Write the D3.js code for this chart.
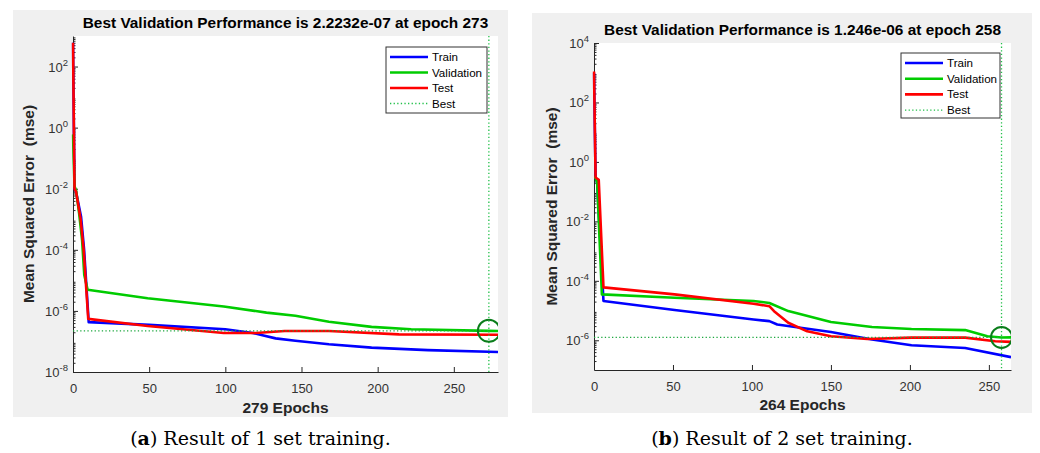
<!DOCTYPE html>
<html>
<head>
<meta charset="utf-8">
<script src="https://cdn.jsdelivr.net/npm/d3@7"></script>
<style>
    body { margin: 0; background: #fff; }
    svg text { font-family: "Liberation Sans", Arial, sans-serif; }
</style>
</head>
<body>
<svg id="chart" width="1040" height="453"></svg>
<script>

// Panel (a): [epoch, mse]
var trainA = [[0, 600], [1, 1e-2], [2, 8e-3], [5.3, 1.2e-3], [7.3, 1e-4], [10.3, 4.3e-7],
    [50, 3.5e-7], [100, 2.5e-7], [118, 1.9e-7], [133, 1.26e-7], [146, 1.05e-7], [168, 8.1e-8],
    [196, 6.3e-8], [233, 5.2e-8], [279, 4.5e-8]];
var validA = [[0, 0.6], [1, 1.2e-2], [2, 9e-3], [4, 1.6e-3], [6, 2e-4], [7.4, 1.5e-5], [9.6, 4.9e-6],
    [49, 2.6e-6], [99, 1.4e-6], [127, 8.8e-7], [146, 6.9e-7], [168, 4.4e-7], [196, 3e-7],
    [222, 2.5e-7], [273, 2.2232e-7], [279, 2.2e-7]];
var testA = [[0, 600], [1, 1e-2], [2, 8e-3], [5, 1e-3], [7, 1e-4], [10, 5.5e-7], [49, 3.2e-7],
    [99, 1.9e-7], [120, 1.9e-7], [139, 2.2e-7], [168, 2.2e-7], [214, 1.7e-7], [279, 1.65e-7]];

// Panel (b)
var trainB = [[0, 1e3], [1, 0.3], [2, 0.2], [6, 2.1e-5], [51, 1.05e-5], [101, 5e-6], [111, 4.4e-6],
    [116, 3.4e-6], [150, 1.9e-6], [176, 1.06e-6], [201, 6.8e-7], [235, 5.5e-7], [264, 2.7e-7]];
var validB = [[0, 0.3], [1, 0.3], [2, 0.2], [5, 3.5e-5], [51, 2.7e-5], [101, 2.1e-5], [111, 1.8e-5],
    [123, 9.6e-6], [150, 4.1e-6], [176, 2.8e-6], [201, 2.4e-6], [235, 2.2e-6], [249, 1.37e-6],
    [258, 1.246e-6], [264, 1.25e-6]];
var testB = [[0, 1.1e3], [1, 0.3], [3, 0.25], [6, 6e-5], [51, 3.5e-5], [101, 1.7e-5], [111, 1.4e-5],
    [114, 9.5e-6], [123, 3.9e-6], [135, 2e-6], [150, 1.37e-6], [173, 1.1e-6], [201, 1.23e-6],
    [235, 1.23e-6], [254, 9.3e-7], [264, 8.8e-7]];

var xTicks = [0, 50, 100, 150, 200, 250];
var yExpA = [-8, -6, -4, -2, 0, 2];
var yExpB = [-6, -4, -2, 0, 2, 4];
var legendNames = ["Train", "Validation", "Test", "Best"];
var lineColors = ["#0000ff", "#00cc00", "#ff0000"];
var bestColor = "#22c04a";

var svg = d3.select("#chart");

// draw one MATLAB-style performance plot
function drawPanel(cfg) {
    var p = cfg.plot;

    // grey figure background
    svg.append("rect")
        .attr("x", cfg.bg[0]).attr("y", cfg.bg[1])
        .attr("width", cfg.bg[2]).attr("height", cfg.bg[3])
        .attr("fill", "#f0f0f0");

    svg.append("rect")
        .attr("x", p.left).attr("y", p.top)
        .attr("width", p.right - p.left).attr("height", p.bottom - p.top)
        .attr("fill", "#fff");

    var x = d3.scaleLinear().domain([0, cfg.epochs]).range([p.left, p.right]);
    var y = d3.scaleLog().domain(cfg.yDomain).range([p.bottom, p.top]);

    var g = svg.append("g");

    // minor log ticks
    var minor = [];
    var lo = Math.floor(Math.log10(cfg.yDomain[0])), hi = Math.ceil(Math.log10(cfg.yDomain[1]));
    for (var k = lo; k < hi; k++) {
        for (var m = 2; m <= 9; m++) {
            var v = m * Math.pow(10, k);
            if (v >= cfg.yDomain[0] && v <= cfg.yDomain[1]) minor.push(v);
        }
    }
    g.append("g")
        .attr("transform", "translate(" + p.left + ",0)")
        .call(d3.axisLeft(y).tickValues(minor).tickSize(-2.5).tickFormat(""))
        .call(function(a) { a.select(".domain").remove(); a.selectAll("line").attr("stroke", "#262626"); });

    var majors = cfg.yExp.map(function(e) { return Math.pow(10, e); });
    var yAxis = g.append("g")
        .attr("transform", "translate(" + p.left + ",0)")
        .call(d3.axisLeft(y).tickValues(majors).tickSize(-5).tickSizeOuter(0).tickFormat(""));
    yAxis.selectAll("line, path").attr("stroke", "#262626");

    // 10^n labels
    var yl = g.selectAll(".ylab")
        .data(cfg.yExp)
        .enter().append("text")
        .attr("class", "ylab")
        .attr("x", p.left - 5)
        .attr("y", function(d) { return y(Math.pow(10, d)) + 5; })
        .attr("text-anchor", "end")
        .attr("fill", "#333")
        .style("font-size", "13px");
    yl.append("tspan").text("10");
    yl.append("tspan")
        .attr("dy", -6)
        .style("font-size", "9.5px")
        .text(function(d) { return d; });

    var xAxis = g.append("g")
        .attr("transform", "translate(0," + p.bottom + ")")
        .call(d3.axisBottom(x).tickValues(xTicks).tickSize(-5).tickSizeOuter(0).tickPadding(12));
    xAxis.selectAll("line, path").attr("stroke", "#262626");
    xAxis.selectAll("text")
        .attr("fill", "#333")
        .style("font-size", "13px")
        .style("font-family", "'Liberation Sans', Arial, sans-serif");

    // curves
    var line = d3.line()
        .x(function(d) { return x(d[0]); })
        .y(function(d) { return y(d[1]); });

    var clipId = "clip" + cfg.id;
    svg.append("clipPath").attr("id", clipId)
        .append("rect")
        .attr("x", p.left - 1.5).attr("y", p.top)
        .attr("width", p.right - p.left + 1.5).attr("height", p.bottom - p.top);

    var curves = svg.append("g").attr("clip-path", "url(#" + clipId + ")");
    [cfg.train, cfg.valid, cfg.test].forEach(function(series, i) {
        curves.append("path")
            .datum(series)
            .attr("d", line)
            .attr("fill", "none")
            .attr("stroke", lineColors[i])
            .attr("stroke-width", 2.6)
            .attr("stroke-linejoin", "round");
    });

    // best markers
    curves.append("line")
        .attr("x1", x(cfg.bestEpoch)).attr("x2", x(cfg.bestEpoch))
        .attr("y1", p.top).attr("y2", p.bottom)
        .attr("stroke", bestColor).attr("stroke-width", 1.3)
        .attr("stroke-dasharray", "1.3,2.3");
    curves.append("line")
        .attr("x1", x(0)).attr("x2", x(cfg.bestEpoch))
        .attr("y1", y(cfg.bestValue)).attr("y2", y(cfg.bestValue))
        .attr("stroke", "#1fa840").attr("stroke-width", 1.3)
        .attr("stroke-dasharray", "1.3,2.3");
    curves.append("circle")
        .attr("cx", x(cfg.bestEpoch)).attr("cy", y(cfg.bestValue))
        .attr("r", cfg.circleR)
        .attr("fill", "none")
        .attr("stroke", "#0a7d1a")
        .attr("stroke-width", 2);

    // titles
    var cx = (p.left + p.right) / 2;
    svg.append("text")
        .attr("x", cx).attr("y", cfg.titleY)
        .attr("text-anchor", "middle")
        .style("font-size", "15.4px").style("font-weight", "bold")
        .attr("fill", "#000")
        .text(cfg.title);

    svg.append("text")
        .attr("x", cx).attr("y", cfg.xLabelY)
        .attr("text-anchor", "middle")
        .style("font-size", "15.5px").style("font-weight", "bold")
        .attr("fill", "#262626")
        .text(cfg.epochs + " Epochs");

    svg.append("text")
        .attr("transform", "translate(" + cfg.yLabelX + "," + ((p.top + p.bottom) / 2) + ") rotate(-90)")
        .attr("text-anchor", "middle")
        .style("font-size", "15.5px").style("font-weight", "bold")
        .style("white-space", "pre")
        .attr("fill", "#262626")
        .text("Mean Squared Error  (mse)");

    // legend
    var lg = cfg.legend;
    var leg = svg.append("g").attr("transform", "translate(" + lg.x + "," + lg.y + ")");
    leg.append("rect")
        .attr("width", lg.w).attr("height", lg.h)
        .attr("fill", "#fff").attr("stroke", "#333").attr("stroke-width", 1);
    var item = leg.selectAll(".item")
        .data(legendNames)
        .enter().append("g")
        .attr("transform", function(d, i) { return "translate(0," + (10 + i * lg.step) + ")"; });
    item.append("line")
        .attr("x1", 4).attr("x2", 42)
        .attr("stroke", function(d, i) { return i < 3 ? lineColors[i] : bestColor; })
        .attr("stroke-width", function(d, i) { return i < 3 ? 2.6 : 1.3; })
        .attr("stroke-dasharray", function(d, i) { return i < 3 ? null : "1.3,2.3"; });
    item.append("text")
        .attr("x", 46).attr("y", 4)
        .style("font-size", "11.6px")
        .attr("fill", "#000")
        .text(function(d) { return d; });

    // caption below the figure
    var cap = svg.append("text")
        .attr("x", cfg.bg[0] + cfg.bg[2] / 2).attr("y", 445)
        .attr("text-anchor", "middle")
        .style("font-family", "'DejaVu Serif', serif")
        .style("font-size", "19px")
        .attr("fill", "#000");
    cap.append("tspan").text("(");
    cap.append("tspan").style("font-weight", "bold").text(cfg.tag);
    cap.append("tspan").text(") " + cfg.caption);
}

drawPanel({
    id: "a",
    bg: [13, 10, 495, 407],
    plot: {left: 73, right: 498, top: 36, bottom: 372},
    epochs: 279,
    yDomain: [1e-8, 1e3],
    yExp: yExpA,
    train: trainA, valid: validA, test: testA,
    bestEpoch: 273, bestValue: 2.2232e-7, circleR: 11,
    title: "Best Validation Performance is 2.2232e-07 at epoch 273",
    titleY: 28, xLabelY: 413, yLabelX: 34,
    legend: {x: 386, y: 47, w: 101, h: 66, step: 15.5},
    tag: "a", caption: "Result of 1 set training."
});

drawPanel({
    id: "b",
    bg: [532, 13, 500, 400],
    plot: {left: 594, right: 1011, top: 43, bottom: 370},
    epochs: 264,
    yDomain: [1e-7, 1e4],
    yExp: yExpB,
    train: trainB, valid: validB, test: testB,
    bestEpoch: 258, bestValue: 1.246e-6, circleR: 10.5,
    title: "Best Validation Performance is 1.246e-06 at epoch 258",
    titleY: 35, xLabelY: 410, yLabelX: 557,
    legend: {x: 901, y: 53, w: 99, h: 65, step: 15.7},
    tag: "b", caption: "Result of 2 set training."
});

</script>
</body>
</html>
